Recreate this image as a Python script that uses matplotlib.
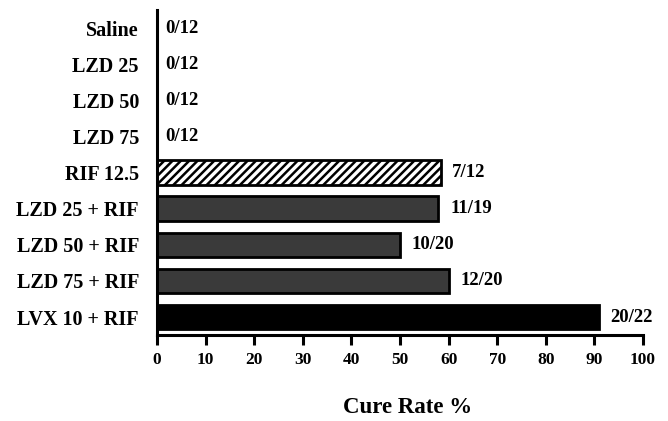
import matplotlib
matplotlib.use("Agg")
import matplotlib.pyplot as plt
import numpy as np

plt.rcParams['font.family'] = ['Liberation Serif', 'DejaVu Serif']
plt.rcParams['font.weight'] = 'bold'
plt.rcParams['hatch.linewidth'] = 1.8

groups = ["Saline", "LZD 25", "LZD 50", "LZD 75", "RIF 12.5",
          "LZD 25 + RIF", "LZD 50 + RIF", "LZD 75 + RIF", "LVX 10 + RIF"]
cured = [0, 0, 0, 0, 7, 11, 10, 12, 20]
total = [12, 12, 12, 12, 12, 19, 20, 20, 22]
cure_rate = [100.0 * c / t for c, t in zip(cured, total)]
fills = ["white", "white", "white", "white", "white",
         "#3a3a3a", "#3a3a3a", "#3a3a3a", "black"]
hatches = ["", "", "", "", "////", "", "", "", ""]

fig = plt.figure(figsize=(6.68, 4.21), dpi=100)
ax = fig.add_axes([0.235, 0.204, 0.7276, 0.772])

y = np.arange(len(groups))
for i in range(len(groups)):
    if cure_rate[i] > 0:
        ax.barh(y[i], cure_rate[i], height=0.68, color=fills[i],
                edgecolor="black", linewidth=2, hatch=hatches[i])
    off = 2.4 if cure_rate[i] > 0 else 1.8
    ax.text(cure_rate[i] + off, y[i], f"{cured[i]}/{total[i]}",
            va="center", ha="left", fontsize=13.5, fontweight="bold")

ax.set_ylim(len(groups) - 0.5, -0.5)
ax.set_xlim(0, 100)
ax.set_yticks(y)
ax.set_yticklabels(groups)
ax.set_xticks(np.arange(0, 101, 10))

ax.spines['top'].set_visible(False)
ax.spines['right'].set_visible(False)
ax.spines['left'].set_linewidth(2.2)
ax.spines['bottom'].set_linewidth(2.2)
ax.tick_params(axis='y', length=0, pad=13, labelsize=14.5)
ax.tick_params(axis='x', length=7, width=2.2, pad=5, labelsize=12.5)

ax.set_xlabel("Cure Rate %", fontsize=16.5, fontweight="bold")
ax.xaxis.set_label_coords(0.516, -0.19)

fig.savefig("out.png", dpi=100)
